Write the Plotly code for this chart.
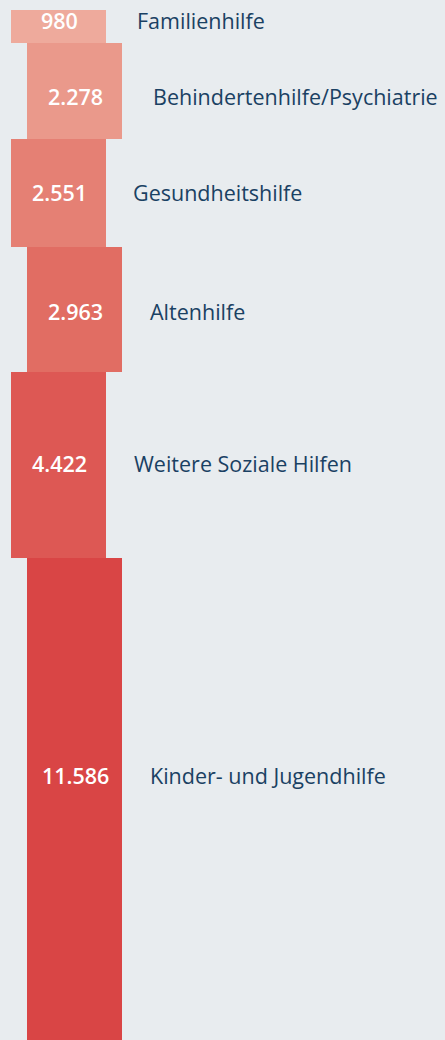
import plotly.graph_objects as go

categories = ["Familienhilfe", "Behindertenhilfe/Psychiatrie", "Gesundheitshilfe",
              "Altenhilfe", "Weitere Soziale Hilfen", "Kinder- und Jugendhilfe"]
values = [980, 2278, 2551, 2963, 4422, 11586]
value_labels = ["980", "2.278", "2.551", "2.963", "4.422", "11.586"]

# style
colors = ["#eeaa9c", "#ea998b", "#e58074", "#e16d63", "#dd5854", "#d94545"]
x_centers = [58.5, 74.5, 58.5, 74.5, 58.5, 74.5]
bar_width = 95
label_gap = [29, 29, 25, 26, 26, 26]
label_yshift = [2, -5, 0, -2, 1, 27]
FONT = "Open Sans"

bases = []
acc = 0
for v in values:
    bases.append(acc)
    acc += v

fig = go.Figure()
fig.add_trace(go.Bar(
    x=x_centers, y=values, base=bases, width=bar_width,
    marker=dict(color=colors, line=dict(width=0)),
    hoverinfo="skip", showlegend=False,
))

for i, (cat, lab) in enumerate(zip(categories, value_labels)):
    mid = bases[i] + values[i] / 2
    fig.add_annotation(x=x_centers[i] + 1, y=mid, text=lab, showarrow=False,
                       xanchor="center", yanchor="middle", yshift=label_yshift[i],
                       font=dict(family=FONT, size=21.5, color="white", weight=600))
    fig.add_annotation(x=x_centers[i] + bar_width / 2 + label_gap[i], y=mid, text=cat,
                       showarrow=False, xanchor="left", yanchor="middle",
                       yshift=label_yshift[i],
                       font=dict(family=FONT, size=21.5, color="#1a4163"))

fig.update_layout(
    width=445, height=1040,
    margin=dict(l=0, r=0, t=10, b=0),
    paper_bgcolor="#e8ecef", plot_bgcolor="#e8ecef",
    bargap=0,
    xaxis=dict(range=[0, 445], visible=False, fixedrange=True),
    yaxis=dict(range=[24625, 197], visible=False, fixedrange=True),
)

fig.write_html("out.html", config={"displayModeBar": False},
               post_script="document.body.style.margin='0';document.body.style.overflow='hidden';")
